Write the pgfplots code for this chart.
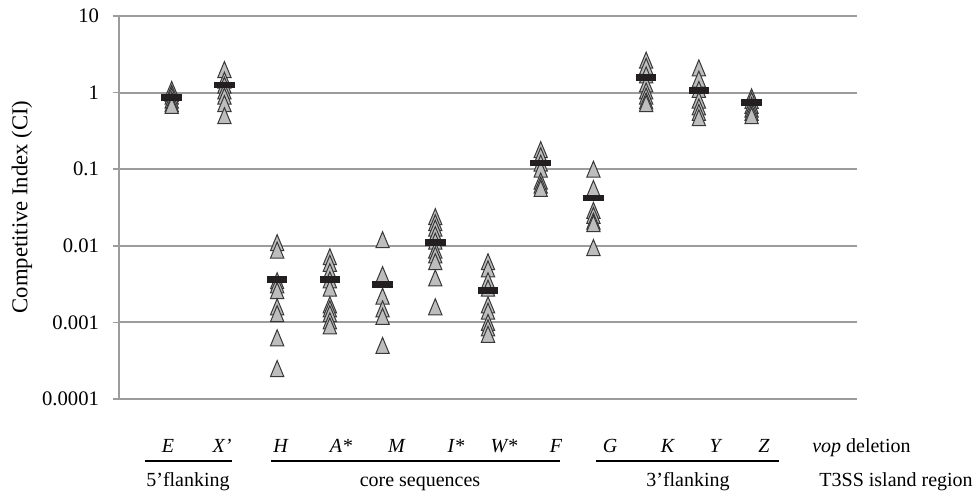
\documentclass[border=0pt]{standalone}
\usepackage{fontspec}
\setmainfont{Liberation Serif}
\usepackage{pgfplots}
\usepackage{pgfplotstable}
\pgfplotsset{compat=1.18}
\definecolor{gridgray}{HTML}{9C9C9C}
\definecolor{trifill}{HTML}{BDBDBD}
\definecolor{triedge}{HTML}{383838}
\definecolor{medblack}{HTML}{231F20}
\pgfdeclareplotmark{medbar}{\pgfpathrectangle{\pgfqpoint{-7.75pt}{-2.5pt}}{\pgfqpoint{15.5pt}{5pt}}\pgfusepathqfill}

% individual CI values (x = position of the vop deletion)
\pgfplotstableread{
x y
1 1.1
1 0.98
1 0.9
1 0.8
1 0.72
1 0.68
2 2.0
2 1.45
2 1.25
2 1.05
2 0.9
2 0.72
2 0.5
3 0.011
3 0.0088
3 0.0035
3 0.0031
3 0.0026
3 0.0016
3 0.0013
3 0.00063
3 0.00025
4 0.0072
4 0.0059
4 0.0046
4 0.0036
4 0.0028
4 0.0017
4 0.0015
4 0.0013
4 0.00105
4 0.0009
5 0.012
5 0.0042
5 0.0022
5 0.0015
5 0.0012
5 0.0005
6 0.024
6 0.02
6 0.017
6 0.014
6 0.0115
6 0.0088
6 0.0076
6 0.0062
6 0.0038
6 0.0016
7 0.0062
7 0.005
7 0.0035
7 0.0028
7 0.0017
7 0.0014
7 0.001
7 0.00085
7 0.0007
8 0.18
8 0.15
8 0.12
8 0.1
8 0.07
8 0.062
8 0.056
9 0.1
9 0.056
9 0.029
9 0.025
9 0.021
9 0.0195
9 0.0095
10 2.65
10 2.2
10 1.7
10 1.3
10 1.05
10 0.9
10 0.78
10 0.72
11 2.1
11 1.5
11 1.1
11 0.8
11 0.65
11 0.55
11 0.47
12 0.88
12 0.79
12 0.68
12 0.61
12 0.55
12 0.5
}\points

% medians
\pgfplotstableread{
x y
1 0.87
2 1.26
3 0.0036
4 0.0036
5 0.0031
6 0.011
7 0.0026
8 0.12
9 0.042
10 1.58
11 1.07
12 0.74
}\medians

\begin{document}
\begin{tikzpicture}
\begin{scope}[shift={(-89.25pt,299.25pt)},x=0.75pt,y=-0.75pt]
\useasboundingbox (0,0) rectangle (974,496);
\end{scope}
\begin{axis}[
  at={(0,0)}, anchor=south west,
  scale only axis, width=553.5pt, height=287.25pt,
  xmin=0, xmax=14,
  ymode=log, ymin=1e-4, ymax=10,
  axis x line=none,
  axis y line*=left,
  axis line style={gridgray, line width=1.2pt, -},
  ytick={1e-4,1e-3,1e-2,1e-1,1,10},
  yticklabels={0.0001,0.001,0.01,0.1,1,10},
  yminorticks=false,
  ymajorgrids,
  grid style={gridgray, line width=1.4pt},
  tick align=outside,
  major tick length=4.5pt,
  tick style={gridgray, line width=1.2pt},
  yticklabel style={font=\fontsize{15.5}{18}\selectfont, anchor=east, xshift=-7pt},
  /pgf/number format/assume math mode=true,
  clip=false,
]
\addplot[only marks, mark=triangle*, mark size=8pt,
  mark options={fill=trifill, draw=triedge, line width=0.75pt, xscale=0.72, yshift=-2pt}]
  table[x=x, y=y] {\points};
\addplot[only marks, mark=medbar, color=medblack] table[x=x, y=y] {\medians};
\end{axis}
\begin{scope}[shift={(-89.25pt,299.25pt)},x=0.75pt,y=-0.75pt]
\node[rotate=90, font=\fontsize{17}{20}\selectfont] at (22,207) {Competitive Index (CI)};
\begin{scope}[font=\fontsize{15}{18}\selectfont]
\foreach \xx/\lab in {168/E, 222/X’, 281/H, 341/A*, 397/M, 456/I*, 504/W*, 556/F, 610/G, 668/K, 716/Y, 764/Z}
  \node[anchor=base, inner sep=0pt] at (\xx,452) {\textit{\lab}};
\node[anchor=base west, inner sep=0pt] at (812,452) {\textit{vop} deletion};
\draw[line width=1.5pt] (145,461) -- (232,461);
\draw[line width=1.5pt] (271,461) -- (560,461);
\draw[line width=1.5pt] (596,461) -- (779,461);
\node[anchor=base, inner sep=0pt] at (188,486) {5’flanking};
\node[anchor=base, inner sep=0pt] at (420,486) {core sequences};
\node[anchor=base, inner sep=0pt] at (688,486) {3’flanking};
\node[anchor=base east, inner sep=0pt] at (973,486) {T3SS island region};
\end{scope}
\end{scope}
\end{tikzpicture}
\end{document}
